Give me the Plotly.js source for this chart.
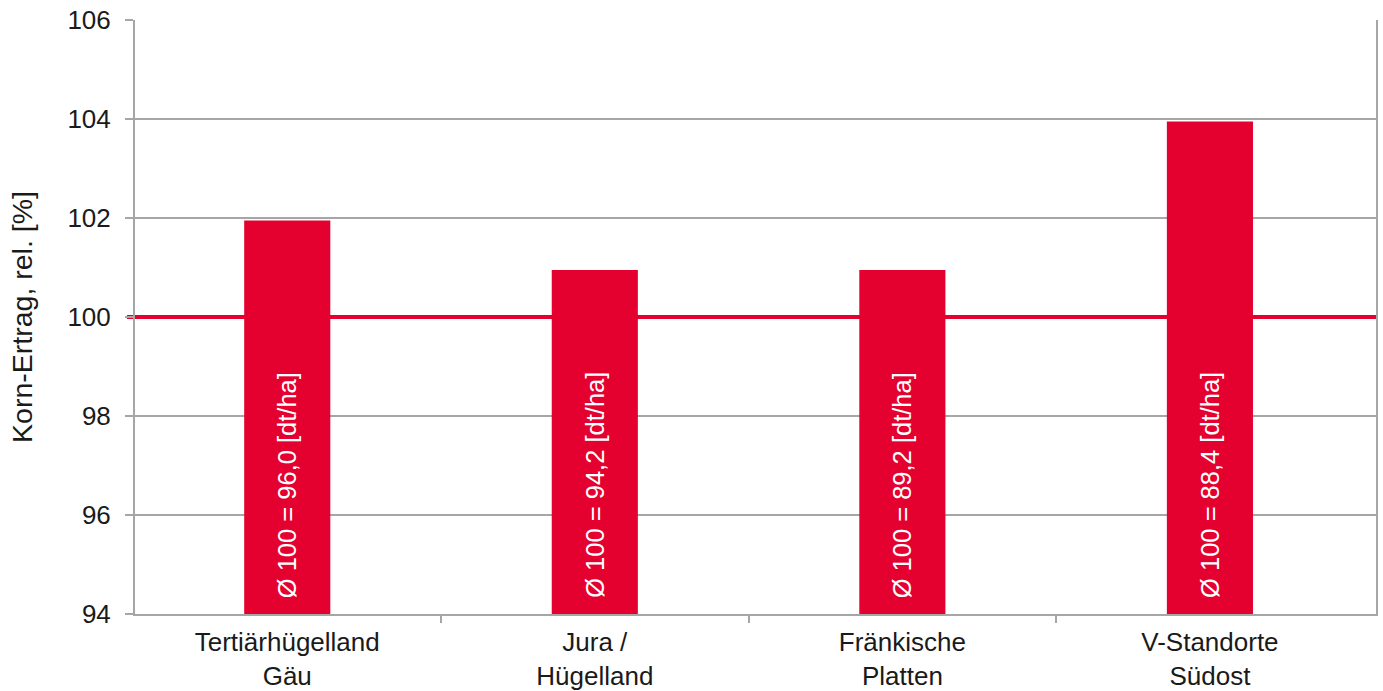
<!DOCTYPE html>
<html>
<head>
<meta charset="utf-8">
<script src="https://cdn.plot.ly/plotly-3.0.1.min.js"></script>
<style>html,body{margin:0;padding:0;background:#fff;}#chart{width:1383px;height:691px;}</style>
</head>
<body>
<div id="chart"></div>
<script>
const categories = ["Tertiärhügelland<br>Gäu", "Jura /<br>Hügelland", "Fränkische<br>Platten", "V-Standorte<br>Südost"];
const values = [101.95, 100.95, 100.95, 103.95];
const barLabels = ["Ø 100 = 96,0 [dt/ha]", "Ø 100 = 94,2 [dt/ha]", "Ø 100 = 89,2 [dt/ha]", "Ø 100 = 88,4 [dt/ha]"];
const referenceValue = 100;
const yTicks = [94, 96, 98, 100, 102, 104, 106];

const red = "#E4002F";
const grid = "#A6A6A6";
const font = "Liberation Sans, Arial, sans-serif";
const positions = categories.map((c, i) => i);
const boundaries = positions.slice(1).map(p => p - 0.5);
const gridVals = yTicks.filter(v => v !== referenceValue && v !== yTicks[0]);

const data = [{
  type: "bar",
  x: positions,
  y: values.map(v => v - 94),
  base: 94,
  marker: {color: red},
  width: 0.28,
  hoverinfo: "none"
}];

const annotations = barLabels.map((t, i) => ({
  x: positions[i], y: 94, xref: "x", yref: "y",
  text: t, textangle: -90, showarrow: false,
  xanchor: "center", yanchor: "bottom", yshift: 14,
  font: {family: font, size: 25.5, color: "#ffffff"}
}));

const layout = {
  width: 1383, height: 691,
  margin: {l: 135, r: 7, t: 20, b: 77},
  paper_bgcolor: "#fff", plot_bgcolor: "#fff",
  showlegend: false,
  font: {family: font, color: "#1a1a1a"},
  xaxis: {
    type: "linear",
    range: [-0.495, 3.54],
    tickmode: "array", tickvals: positions, ticktext: categories,
    ticks: "", ticklen: 0, ticklabelstandoff: 4,
    minor: {tickmode: "array", tickvals: boundaries, ticks: "outside", ticklen: 7, tickwidth: 2, tickcolor: grid, showgrid: false},
    showline: true, linecolor: grid, linewidth: 2,
    showgrid: false, zeroline: false,
    tickfont: {family: font, size: 26, color: "#1a1a1a"}
  },
  yaxis: {
    range: [94, 106],
    tickvals: yTicks,
    ticktext: yTicks.map(String),
    ticks: "outside", ticklen: 8, tickwidth: 2, tickcolor: grid,
    ticklabelstandoff: 9,
    showline: true, linecolor: grid, linewidth: 2, mirror: true,
    showgrid: false,
    minor: {tickmode: "array", tickvals: gridVals, ticks: "", showgrid: true, gridcolor: grid, gridwidth: 2},
    zeroline: false,
    tickfont: {family: font, size: 26, color: "#1a1a1a"},
    title: {text: "Korn-Ertrag, rel. [%]", font: {family: font, size: 28.5, color: "#1a1a1a"}, standoff: 26}
  },
  shapes: [{
    type: "line", xref: "paper", yref: "y",
    x0: -0.0065, x1: 1, y0: referenceValue, y1: referenceValue,
    line: {color: red, width: 4}, layer: "below"
  }],
  annotations: annotations
};

Plotly.newPlot("chart", data, layout, {displayModeBar: false, staticPlot: true});
</script>
</body>
</html>
